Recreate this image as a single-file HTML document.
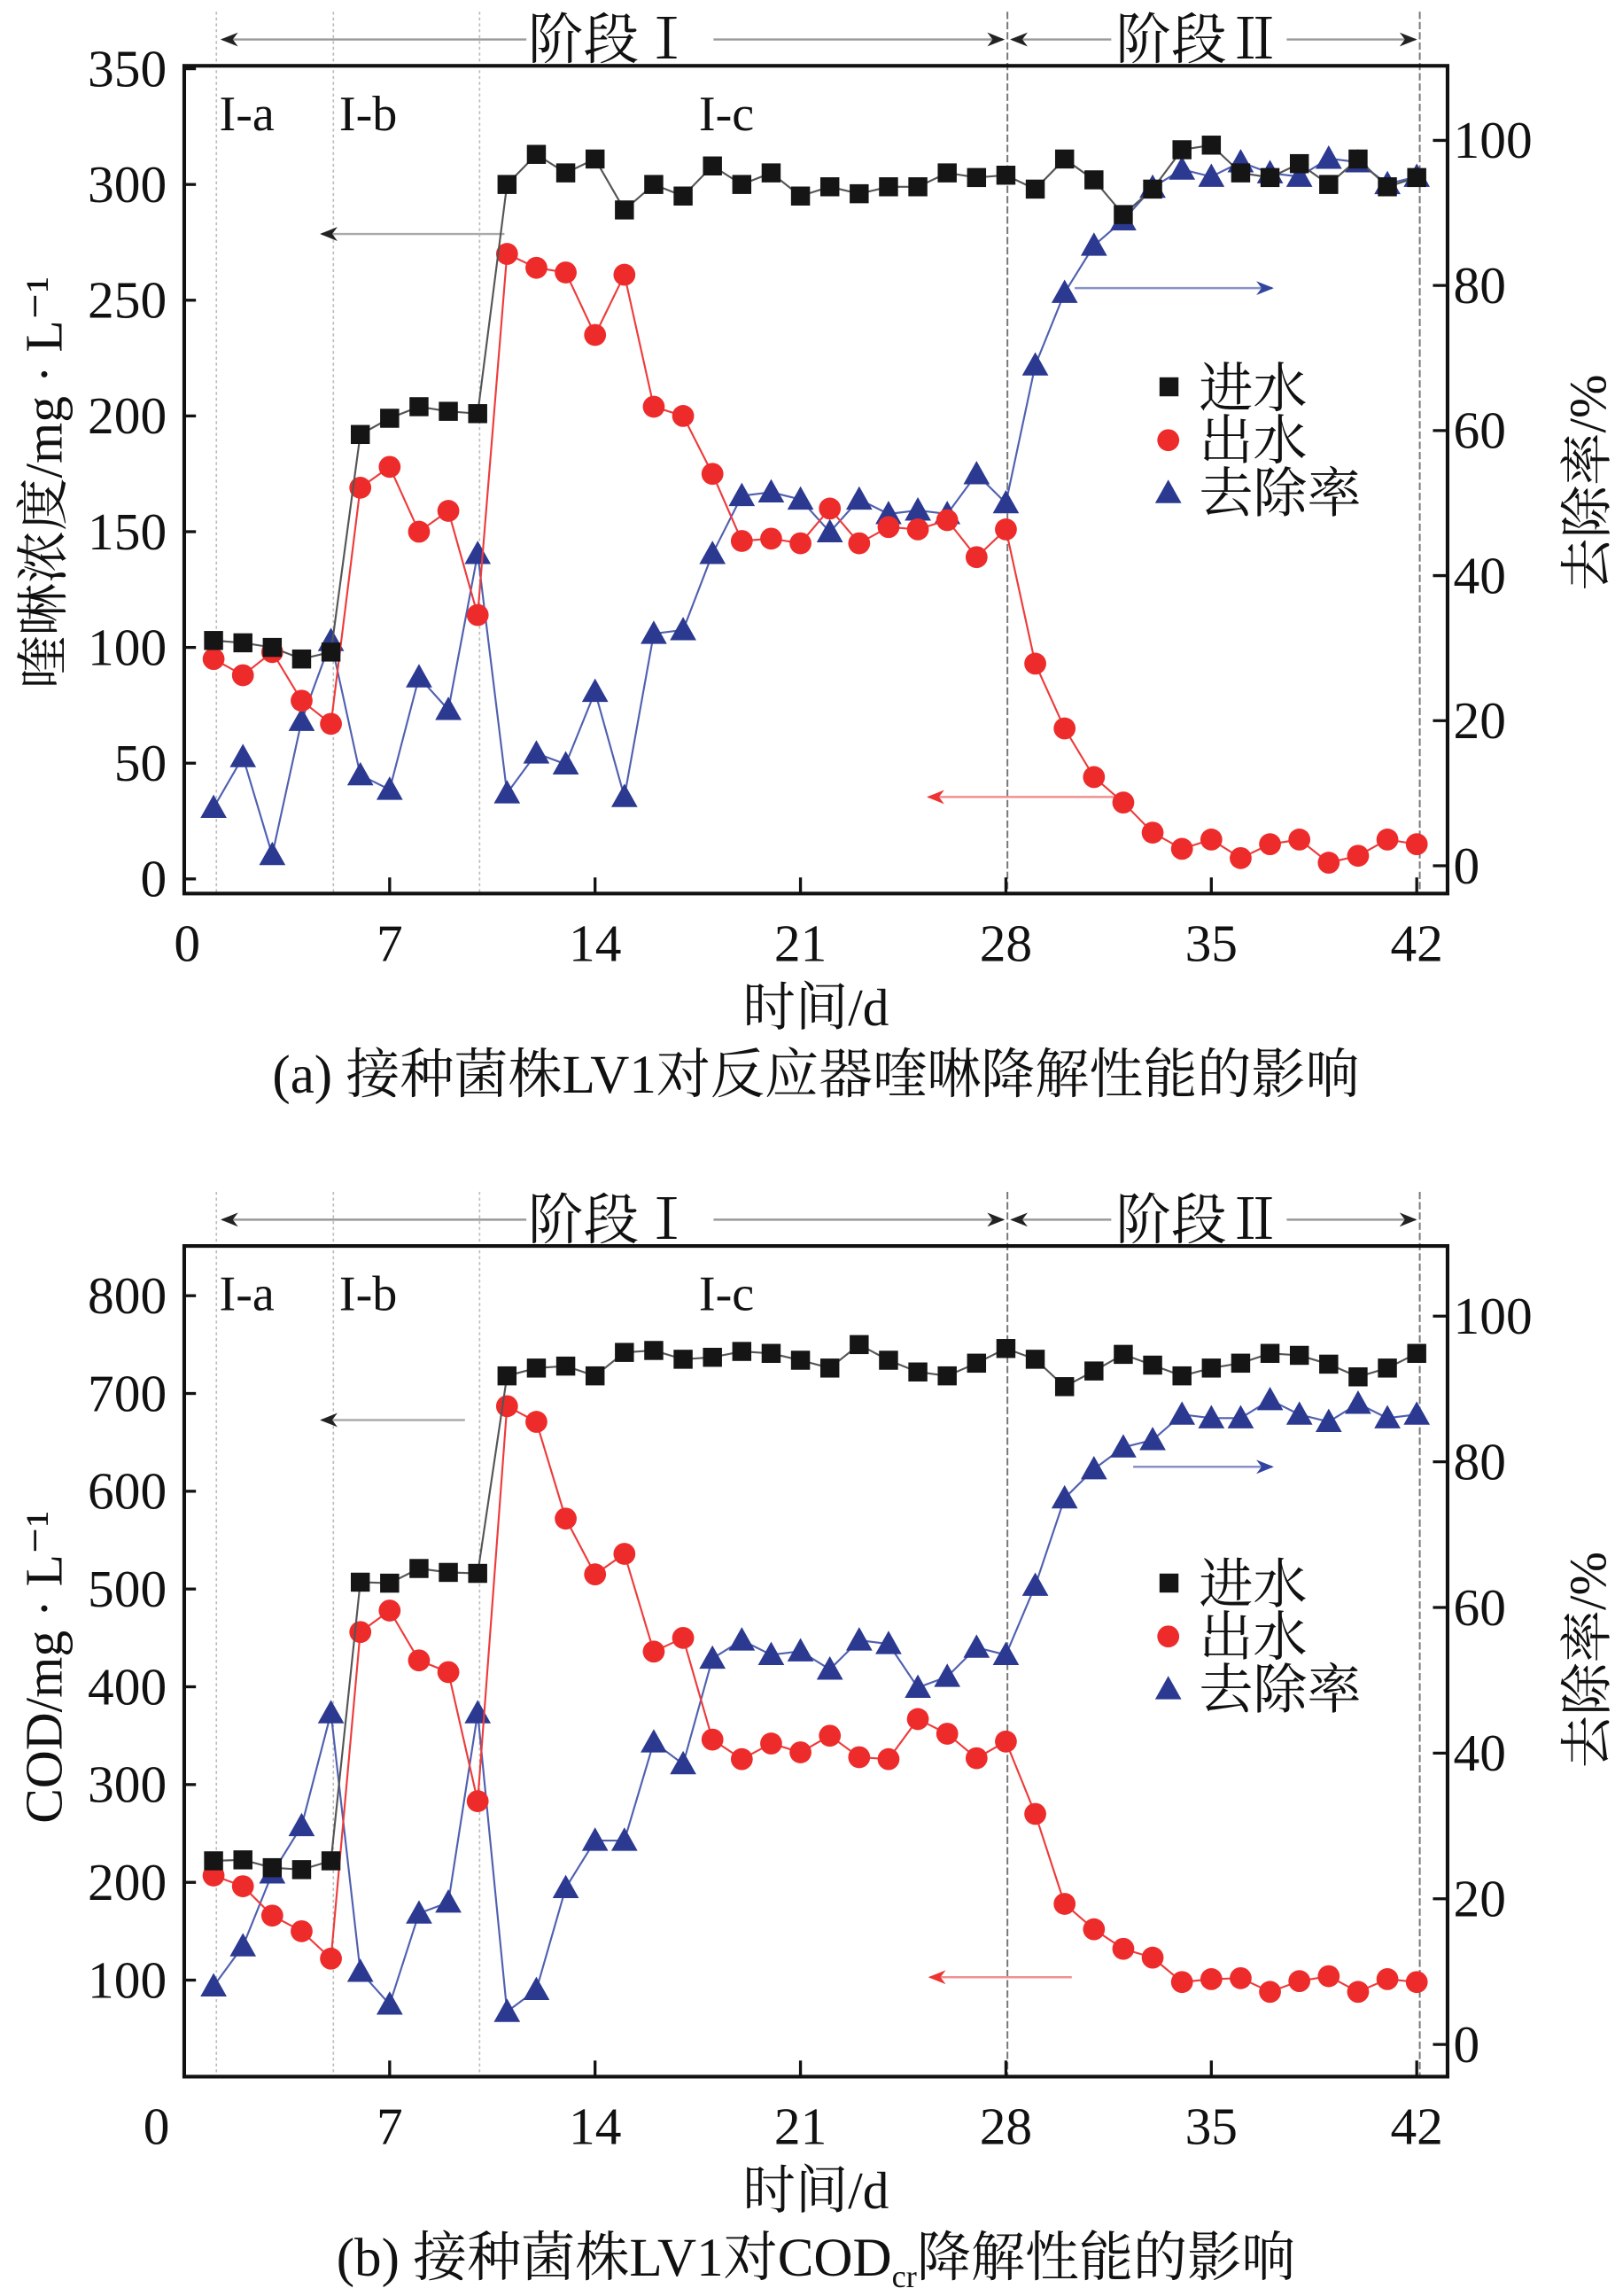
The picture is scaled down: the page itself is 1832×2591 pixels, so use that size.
<!DOCTYPE html>
<html><head><meta charset="utf-8"><style>
html,body{margin:0;padding:0;background:#fff;}
svg{display:block;}
text{font-family:"Liberation Serif","Noto Serif CJK SC","Noto Sans CJK SC",serif;fill:#111;}
</style></head><body>
<svg id="fig" width="1832" height="2591" viewBox="0 0 1110 1570" preserveAspectRatio="none" xmlns="http://www.w3.org/2000/svg">
<defs>
<marker id="ahk" viewBox="0 0 10 10" refX="9" refY="5" markerWidth="8" markerHeight="8" orient="auto-start-reverse"><path d="M0,1 L10,5 L0,9 L3,5z" fill="#222"/></marker>
<marker id="ahb" viewBox="0 0 10 10" refX="9" refY="5" markerWidth="8" markerHeight="8" orient="auto-start-reverse"><path d="M0,1 L10,5 L0,9 L3,5z" fill="#3344a0"/></marker>
<marker id="ahr" viewBox="0 0 10 10" refX="9" refY="5" markerWidth="8" markerHeight="8" orient="auto-start-reverse"><path d="M0,1 L10,5 L0,9 L3,5z" fill="#e33"/></marker>
</defs>
</svg>
<script>
const days = [1,2,3,4,5,6,7,8,9,10,11,12,13,14,15,16,17,18,19,20,21,22,23,24,25,26,27,28,29,30,31,32,33,34,35,36,37,38,39,40,41,42];
const xTicks = [0,7,14,21,28,35,42];
const aInfluent = [103,102,100,95,98,192,199,204,202,201,300,313,305,311,289,300,295,308,300,305,295,299,296,299,299,305,303,304,298,311,302,287,298,315,317,305,303,309,300,311,299,303];
const aEffluent = [95,88,98,77,67,169,178,150,159,114,270,264,262,235,261,204,200,175,146,147,145,160,145,152,151,155,139,151,93,65,44,33,20,13,17,9,15,17,7,10,17,15];
const aRemoval = [8,15,1.5,20,31,12.5,10.5,26,21.5,43,10,15.5,14,24,9.5,32,32.5,43,51,51.5,50.5,46,50.5,48.5,49,48.5,54,50,69,79,85.5,89,93.5,96,95,97,95.5,95,97.5,97,94,95];
const aLeftTicks = [0,50,100,150,200,250,300,350];
const bInfluent = [222,223,215,213,222,507,506,521,517,516,718,726,728,718,742,744,735,737,743,741,734,726,750,734,722,718,731,746,735,707,723,740,729,718,726,731,741,739,730,717,726,741];
const bEffluent = [207,196,166,150,122,456,478,427,415,283,687,671,572,515,536,436,450,346,326,342,333,350,328,326,367,352,327,344,270,178,152,132,123,98,101,102,88,99,104,88,101,98];
const bRemoval = [8,13.5,23.5,30,45.5,10,5.5,18,19.5,45.5,4.5,7.5,21.5,28,28,41.5,38.5,53,55.5,53.5,54,51.5,55.5,55,49,50.5,54.5,53.5,63,75,79,82,83,86.5,86,86,88.5,86.5,85.5,88,86,86.5];
const bLeftTicks = [100,200,300,400,500,600,700,800];
const rightTicks = [0,20,40,60,80,100];

const svg = document.getElementById('fig');
const NS = 'http://www.w3.org/2000/svg';
function el(tag, attrs, parent){
  const e = document.createElementNS(NS, tag);
  for (const k in attrs) e.setAttribute(k, attrs[k]);
  (parent||svg).appendChild(e);
  return e;
}
function txt(x,y,s,size,anchor,parent){
  const t = el('text',{x:x,y:y,'font-size':size,'text-anchor':anchor||'middle'},parent);
  t.textContent = s;
  return t;
}

function drawChart(c){
  const g = el('g',{});
  
  
  const L=126,R=990,T=c.top,B=c.bottom;
  const xs = d => 126 + d*20.07;
  const yl = v => c.y0px + (v - c.y0val)*(c.y1px - c.y0px)/(c.y1val - c.y0val);
  const yr = v => c.r0px + v*(c.r100px - c.r0px)/100;

  [148,228,328,689,971].forEach((x,i)=>{
    const ln = el('line',{x1:x,y1:T-37,x2:x,y2:B,stroke:i>=3?'#777':'#bbb','stroke-width':i>=3?1.2:1,'stroke-dasharray':i>=3?'5,2':'2,2'},g);
    
    
  });
  const hy = T-18;
  const hdr = el('g',{},g);
  
  
  el('line',{x1:360,y1:hy,x2:152,y2:hy,stroke:'#999','stroke-width':1.5,'marker-end':'url(#ahk)'},hdr);
  el('line',{x1:488,y1:hy,x2:686,y2:hy,stroke:'#999','stroke-width':1.5,'marker-end':'url(#ahk)'},hdr);
  el('line',{x1:760,y1:hy,x2:692,y2:hy,stroke:'#999','stroke-width':1.5,'marker-end':'url(#ahk)'},hdr);
  el('line',{x1:880,y1:hy,x2:968,y2:hy,stroke:'#999','stroke-width':1.5,'marker-end':'url(#ahk)'},hdr);
  txt(418,hy+13,'阶段Ⅰ',38,'middle',hdr);
  txt(820,hy+13,'阶段Ⅱ',38,'middle',hdr);
  txt(150,T+44,'I-a',34,'start',g);
  txt(232,T+44,'I-b',34,'start',g);
  txt(478,T+44,'I-c',34,'start',g);

  const box = el('rect',{x:L,y:T,width:R-L,height:B-T,fill:'none',stroke:'#111','stroke-width':2.5},g);
  
  
  xTicks.forEach(d=>{
    const x = xs(d);
    if (d>0) el('line',{x1:x,y1:B,x2:x,y2:B-11,stroke:'#111','stroke-width':2},g);
    const t = txt(d===0?c.zeroX:x,B+46,String(d),36,'middle',g);
    
    
  });
  c.leftTicks.forEach(v=>{
    const y = yl(v);
    el('line',{x1:L,y1:y,x2:L+8,y2:y,stroke:'#111','stroke-width':2},g);
    const t = txt(L-12,y+12,String(v),36,'end',g);
    
    
  });
  rightTicks.forEach(v=>{
    const y = yr(v);
    el('line',{x1:R,y1:y,x2:R-10,y2:y,stroke:'#111','stroke-width':2},g);
    const t = txt(R+4,y+12,String(v),36,'start',g);
    
    
  });
  const ylab = txt(0,0,c.leftTitle,36,'middle',g);
  ylab.setAttribute('transform','translate(42,'+c.leftTitleY+') rotate(-90)');
  
  
  const rlab = txt(0,0,'去除率/%',36,'middle',g);
  rlab.setAttribute('transform','translate(1098,'+c.rightTitleY+') rotate(-90)');
  
  
  const xl = txt(558,B+90,'时间/d',36,'middle',g);
  
  
  const cap = el('text',{x:558,y:B+136,'font-size':37,'text-anchor':'middle'},g);
  cap.innerHTML = c.caption;
  
  

  const a1 = el('line',{x1:c.ka[0],y1:c.ka[2],x2:c.ka[1],y2:c.ka[2],stroke:'#aaa','stroke-width':1.5,'marker-end':'url(#ahk)'},g);
  
  
  const a2 = el('line',{x1:c.ba[0],y1:c.ba[2],x2:c.ba[1],y2:c.ba[2],stroke:'#8890c8','stroke-width':1.5,'marker-end':'url(#ahb)'},g);
  
  
  const a3 = el('line',{x1:c.ra[0],y1:c.ra[2],x2:c.ra[1],y2:c.ra[2],stroke:'#f09090','stroke-width':1.5,'marker-end':'url(#ahr)'},g);
  
  

  function series(vals, yf, color, lineColor, kind, name){
    const sg = el('g',{},g);
    
    
    const pts = vals.map((v,i)=>[xs(days[i]), yf(v)]);
    el('polyline',{points:pts.map(p=>p.join(',')).join(' '),fill:'none',stroke:lineColor,'stroke-width':1.3},sg);
    pts.forEach(p=>{
      let m;
      if (kind==='sq') m = el('rect',{x:p[0]-6.5,y:p[1]-6.5,width:13,height:13,fill:color},sg);
      else if (kind==='ci') m = el('circle',{cx:p[0],cy:p[1],r:7.5,fill:color},sg);
      else m = el('polygon',{points:(p[0])+','+(p[1]-9)+' '+(p[0]-9)+','+(p[1]+7)+' '+(p[0]+9)+','+(p[1]+7),fill:color},sg);
      
      
    });
  }
  series(c.removal, yr, '#2b3990', '#5060b0', 'tr', 'removal-series');
  series(c.effluent, yl, '#ee2b2b', '#ee3b3b', 'ci', 'effluent-series');
  series(c.influent, yl, '#151515', '#555', 'sq', 'influent-series');

  const lg = el('g',{},g);
  
  
  const ly = c.legendY;
  el('rect',{x:793,y:ly-7,width:13,height:13,fill:'#151515'},lg);
  txt(820,ly+13,'进水',37,'start',lg);
  el('circle',{cx:799,cy:ly+36,r:7.5,fill:'#ee2b2b'},lg);
  txt(820,ly+49,'出水',37,'start',lg);
  el('polygon',{points:'799,'+(ly+63)+' 790,'+(ly+79)+' 808,'+(ly+79),fill:'#2b3990'},lg);
  txt(820,ly+85,'去除率',37,'start',lg);
}

drawChart({name:'chart-a-quinoline', top:45, bottom:611,
  y0px:601, y0val:0, y1px:47, y1val:350, r0px:592, r100px:96,
  leftTicks:aLeftTicks, influent:aInfluent, effluent:aEffluent, removal:aRemoval,
  leftTitle:'喹啉浓度/mg · L⁻¹', leftTitleY:330, rightTitleY:330, zeroX:128,
  caption:'(a) 接种菌株LV1对反应器喹啉降解性能的影响',
  ka:[345,220,160], ba:[735,870,197], ra:[770,635,545], legendY:265});

drawChart({name:'chart-b-cod', top:852, bottom:1420,
  y0px:1354, y0val:100, y1px:886, y1val:800, r0px:1398, r100px:900,
  leftTicks:bLeftTicks, influent:bInfluent, effluent:bEffluent, removal:bRemoval,
  leftTitle:'COD/mg · L⁻¹', leftTitleY:1140, rightTitleY:1135, zeroX:107,
  caption:'(b) 接种菌株LV1对COD<tspan font-size="22" dy="8">cr</tspan><tspan dy="-8">降解性能的影响</tspan>',
  ka:[318,220,971], ba:[775,870,1003], ra:[733,636,1352], legendY:1083});
</script>
</body></html>
